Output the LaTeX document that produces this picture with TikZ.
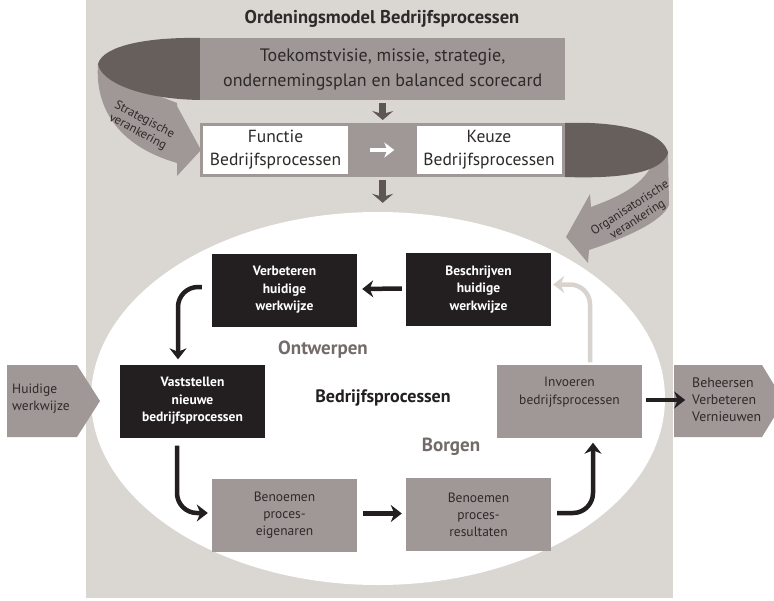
\documentclass[tikz,border=0pt]{standalone}
\usepackage{fontspec}
\setmainfont{PT Sans}
\usetikzlibrary{arrows.meta,calc,shapes.geometric}
\definecolor{bgpanel}{HTML}{DAD6D2}
\definecolor{midgray}{HTML}{A09896}
\definecolor{darkband}{HTML}{675F5C}
\definecolor{arrowgray}{HTML}{5E5654}
\definecolor{boxblack}{HTML}{231F20}
\definecolor{inktext}{HTML}{2E2A2A}
\definecolor{phasetext}{HTML}{736B69}
\definecolor{lightarrow}{HTML}{D8D3CF}
\begin{document}
\begin{tikzpicture}[x=1pt,y=-1pt,
  blackbox/.style={fill=boxblack, text=white, font=\bfseries\fontsize{13.5}{17.5}\selectfont,
    align=center, minimum width=145pt, minimum height=73pt, inner sep=0pt},
  greybox/.style={fill=midgray, text=inktext, font=\fontsize{13.5}{16.8}\selectfont,
    align=center, minimum width=145pt, minimum height=73pt, inner sep=0pt},
  whitebox/.style={fill=white, text=inktext, font=\fontsize{17.5}{23}\selectfont,
    align=center, minimum width=145pt, minimum height=48pt, inner sep=0pt},
  phase/.style={text=phasetext, font=\bfseries\fontsize{19}{21}\selectfont},
  ribbontext/.style={text=inktext, font=\fontsize{12.5}{14}\selectfont, align=center, inner sep=0pt},
  flow/.style={draw=boxblack, line width=4.5pt, -{Stealth[length=11pt,width=17pt,inset=3.5pt]}},
  backflow/.style={draw=lightarrow, line width=4.5pt, -{Stealth[length=11pt,width=17pt,inset=3.5pt]}},
  downarrow/.style={draw=arrowgray, line width=7pt, -{Stealth[length=9pt,width=21pt,inset=3pt]}},
]
\clip (0,0) rectangle (774,600);
\fill[white] (0,0) rectangle (774,600);
\fill[bgpanel] (86,0) rectangle (673,598);

% central white field
\node[ellipse, fill=white, minimum width=574pt, minimum height=373pt, inner sep=0pt] (core) at (378,398.5) {};

\node[text=inktext, font=\bfseries\fontsize{18.5}{20}\selectfont] (title) at (382,19) {Ordeningsmodel Bedrijfsprocessen};

% left ribbon: back face, then front face
\fill[midgray] (98,64) .. controls (95,105) and (115,145) .. (177,163) -- (177,176) -- (201,150)
  -- (177,106) -- (177,103) .. controls (150,92) and (110,82) .. (98,64) -- cycle;
\fill[darkband] (200,38) .. controls (150,37) and (103,45) .. (98,64)
  .. controls (101,82) and (140,99) .. (200,100) -- cycle;

% right ribbon: back face, then front face
\fill[midgray] (668,150) -- (669,205) .. controls (662,222) and (625,238) .. (589,250) -- (588,263)
  -- (566,237) -- (590,194) -- (591,207) .. controls (615,198) and (640,188) .. (652,165) -- cycle;
\fill[darkband] (565,123) .. controls (620,121) and (664,132) .. (668,153)
  .. controls (662,172) and (625,179) .. (565,177) -- cycle;

\node[ribbontext, rotate=-28] (strat) at (141,126) {Strategische\\verankering};
\node[ribbontext, rotate=33] (organ) at (634,214) {Organisatorische\\verankering};

% vision banner and process choice bar
\node[fill=midgray, minimum width=365pt, minimum height=62pt, inner sep=0pt, anchor=north west,
  font=\fontsize{18}{25}\selectfont, text=inktext, align=center] (vision) at (200,38)
  {Toekomstvisie, missie, strategie,\\ondernemingsplan en balanced scorecard};
\node[fill=midgray, minimum width=365pt, minimum height=54pt, inner sep=0pt, anchor=north west] (bar) at (200,123) {};
\node[whitebox] (func) at (275.5,150) {Functie\\Bedrijfsprocessen};
\node[whitebox] (keuze) at (489,150) {Keuze\\Bedrijfsprocessen};
\draw[draw=white, line width=4pt, -{Stealth[length=10pt,width=15pt,inset=3pt]}]
  ($(func.east)+(22,0)$) -- ($(keuze.west)+(-22,0)$);

\draw[downarrow] ($(vision.south)+(0,3)$) -- ($(bar.north)+(0,-3)$);
\draw[downarrow] ($(bar.south)+(0,3)$) -- ($(bar.south |- core.north)+(0,-9)$);

% process steps
\node[blackbox] (verb) at (284.5,290) {Verbeteren\\huidige\\werkwijze};
\node[blackbox] (beschr) at (478.5,289.5) {Beschrijven\\huidige\\werkwijze};
\node[blackbox] (vast) at (192.5,401) {Vaststellen\\nieuwe\\bedrijfsprocessen};
\node[greybox] (invoer) at (569.5,401) {};
\node[text=inktext, font=\fontsize{13.5}{18}\selectfont, align=center] (invoertxt)
  at ($(invoer.center)+(0,-9)$) {Invoeren\\bedrijfsprocessen};
\node[greybox] (eig) at (284.5,515) {Benoemen\\proces-\\eigenaren};
\node[greybox] (res) at (478.5,514.5) {Benoemen\\proces-\\resultaten};

\node[phase] (ontw) at (323,350) {Ontwerpen};
\node[phase] (borg) at (451,447) {Borgen};
\node[text=boxblack, font=\bfseries\fontsize{18}{20}\selectfont] (bp) at (383,398) {Bedrijfsprocessen};

% input and output chevrons
\fill[midgray] (7,365) -- (77,365) -- (100,401) -- (77,437) -- (7,437) -- cycle;
\node[anchor=west, align=left, text=inktext, font=\fontsize{13.5}{17}\selectfont, inner sep=0pt] (huid) at (12,399) {Huidige\\werkwijze};
\fill[midgray] (674,365) -- (762,365) -- (784,401) -- (762,437) -- (674,437) -- cycle;
\node[anchor=west, align=left, text=inktext, font=\fontsize{13.8}{17}\selectfont, inner sep=0pt] (beh) at (692,400) {Beheersen\\Verbeteren\\Vernieuwen};

% connectors
\draw[flow] ($(beschr.west)+(-4,-1)$) -- ($(verb.east)+(5,-1)$);
\draw[flow, rounded corners=20pt] ($(verb.west)+(-10,-3)$) -| ($(vast.north)+(-14.5,-5)$);
\draw[flow, rounded corners=20pt] ($(vast.south)+(-15.5,8)$) |- ($(eig.west)+(-4,-2)$);
\draw[flow] ($(eig.east)+(6,-1.5)$) -- ($(res.west)+(-4,-1)$);
\draw[flow, rounded corners=20pt] ($(res.east)+(6,-1.5)$) -| ($(invoer.south)+(23.5,5)$);
\draw[flow] ($(invoer.east)+(4,-1)$) -- ($(invoer.east)+(43,-1)$);
\draw[backflow, rounded corners=20pt] ($(invoer.north)+(20.5,-2)$) |- ($(beschr.east)+(2,-5)$);
\end{tikzpicture}
\end{document}
